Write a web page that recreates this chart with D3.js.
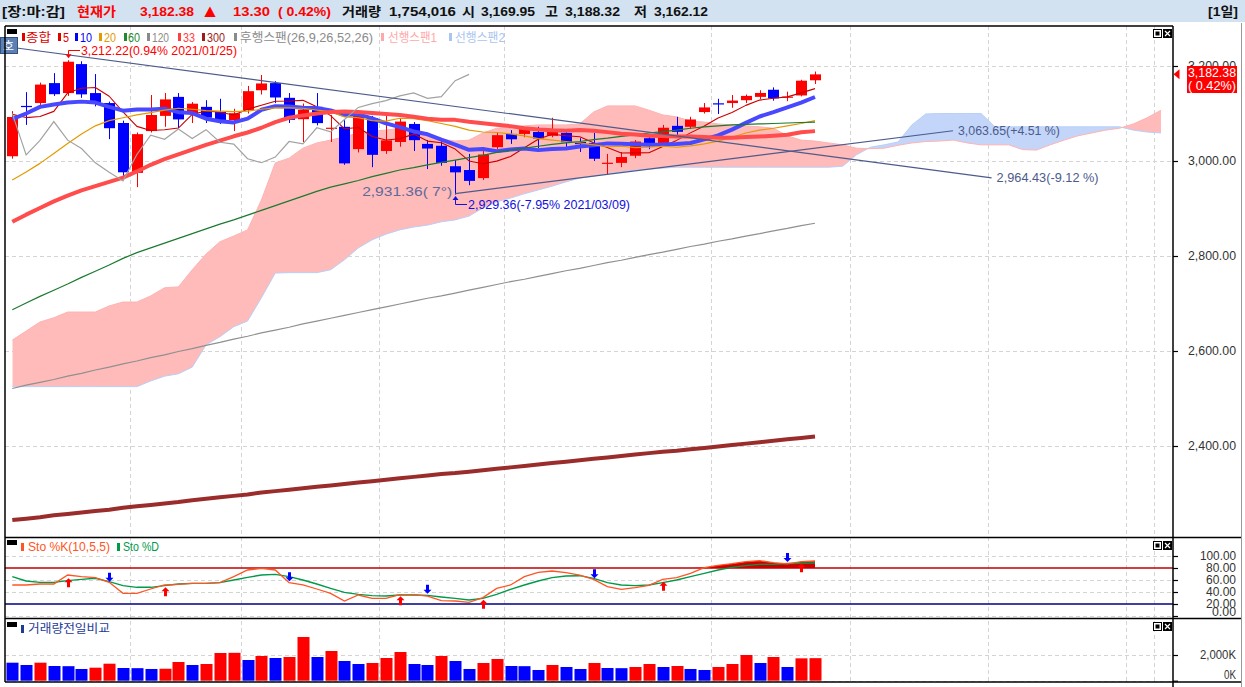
<!DOCTYPE html>
<html><head><meta charset="utf-8">
<script src="https://cdn.jsdelivr.net/npm/d3@7"></script>
<style>
body{margin:0;background:#fff;overflow:hidden}
svg{display:block}
text{font-family:"Liberation Sans","Noto Sans CJK KR",sans-serif}
</style>
</head><body>
<svg id="c" width="1245" height="687"></svg>
<script>
// ---------------- DATA ----------------
const dates = ["2021/01/19","2021/01/20","2021/01/21","2021/01/22","2021/01/25","2021/01/26","2021/01/27","2021/01/28","2021/01/29","2021/02/01",
"2021/02/02","2021/02/03","2021/02/04","2021/02/05","2021/02/08","2021/02/09","2021/02/10","2021/02/15","2021/02/16","2021/02/17",
"2021/02/18","2021/02/19","2021/02/22","2021/02/23","2021/02/24","2021/02/25","2021/02/26","2021/03/02","2021/03/03","2021/03/04",
"2021/03/05","2021/03/08","2021/03/09","2021/03/10","2021/03/11","2021/03/12","2021/03/15","2021/03/16","2021/03/17","2021/03/18",
"2021/03/19","2021/03/22","2021/03/23","2021/03/24","2021/03/25","2021/03/26","2021/03/29","2021/03/30","2021/03/31","2021/04/01",
"2021/04/02","2021/04/05","2021/04/06","2021/04/07","2021/04/08","2021/04/09","2021/04/12","2021/04/13","2021/04/14"];
const opens = [3010,3116,3122,3164,3143,3204,3143,3122,3080,2975,
3063,3095,3135,3101,3114,3103,3086,3107,3149,3164,
3133,3088,3114,3068,3072,3025,3090,3021,3040,3078,
3036,3032,2989,2981,2964,3029,3057,3057,3061,3053,
3059,3040,3038,2994,2996,3011,3048,3038,3074,3072,
3103,3121.5,3122,3128,3135,3150,3134,3138,3169.95];
const highs = [3105,3145,3165,3185,3212.22,3210,3183,3125,3085,3060,
3139,3143,3143,3124,3128,3131,3110,3158,3181,3168,
3143,3121,3143,3097,3086,3103,3095,3101,3090,3082,
3044,3046,3002,3015,3029,3061,3065,3071,3072,3091,
3063,3048,3059,3015,3019,3044,3052,3076,3093,3093,
3122,3131,3139,3140,3149,3155,3146,3171,3188.32];
const lows = [3005,3076,3118,3137,3137,3133,3115,3046,2964,2945,
3060,3072,3069,3080,3080,3078,3063,3100,3140,3122,
3080,3040,3075,3040,2992,3018,2987,3015,3030,3021,
2983,2990,2929.36,2949,2960,3025,3036,3050,3027,3050,
3023,3019,3000,2971,2987,3006,3025,3033,3055,3068,
3100,3099,3112,3122,3130,3127,3126,3136,3162.12];
const closes = [3092.66,3114.55,3160.84,3140.63,3208.99,3140.31,3122.56,3069.05,2976.21,3056.53,
3096.81,3129.68,3087.55,3120.63,3091.24,3084.67,3100.58,3147.00,3163.25,3133.73,
3086.66,3107.62,3079.75,3070.09,2994.98,3099.69,3012.95,3043.49,3082.99,3043.87,
3026.26,2996.11,2976.12,2958.12,3013.70,3054.39,3045.71,3067.17,3047.50,3066.01,
3039.53,3035.46,3004.74,2996.35,3008.33,3041.01,3036.04,3070.00,3061.42,3087.40,
3112.80,3120.83,3127.20,3137.06,3143.26,3131.88,3135.59,3169.08,3182.38];
const ma5 = [3098.2,3091.4,3093.6,3104.5,3143.5,3153.1,3154.7,3136.3,3103.4,3072.9,
3064.2,3065.7,3069.4,3098.2,3105.2,3102.8,3096.9,3108.8,3117.3,3125.8,
3126.2,3127.7,3114.2,3095.6,3067.8,3070.4,3051.5,3044.2,3046.8,3056.6,
3041.9,3038.5,3025.1,3000.1,2994.1,2999.7,3009.6,3027.8,3045.7,3056.2,
3053.2,3051.1,3038.6,3028.4,3016.9,3017.2,3017.3,3030.3,3043.4,3059.2,
3073.5,3090.5,3101.9,3117.1,3128.2,3132.0,3135.0,3143.4,3152.4];
const ma10 = [3088,3100,3114,3119,3123,3125,3123,3114,3106,3108.2,
3108.6,3110.2,3102.8,3100.8,3089.1,3083.5,3081.3,3089.1,3107.8,3115.5,
3114.5,3112.3,3111.5,3106.5,3096.8,3098.3,3089.6,3079.2,3071.2,3062.2,
3056.2,3045.0,3034.7,3023.5,3025.3,3020.8,3024.1,3026.4,3022.9,3025.1,
3026.4,3030.4,3033.2,3037.1,3036.5,3035.2,3034.2,3034.5,3035.9,3038.0,
3045.4,3053.9,3066.1,3080.2,3093.7,3102.8,3112.7,3122.7,3134.7];
const ma20 = [2960,2977,2995,3016,3037,3057,3074,3085,3091,3097,
3102,3107,3111,3109,3106,3105,3104,3105,3109,3112,
3112,3111,3107,3104,3093,3091,3085,3084,3090,3089,
3085,3079,3073,3065,3061,3060,3057,3053,3047,3044,
3041,3038,3034,3030,3031,3028,3029,3031,3029,3032,
3036,3042,3050,3059,3065,3069,3074,3079,3085];
const ma60 = [2687,2701,2715,2728,2741,2755,2768,2781,2795,2807,
2817,2827,2837,2847,2857,2867,2876,2886,2896,2906,
2916,2926,2936,2945,2952,2959,2967,2974,2981,2986,
2992,2997,3002,3007,3012,3018,3023,3027,3031,3035,
3038,3041,3045,3048,3052,3055,3059,3062,3065,3069,
3072,3074,3076,3077,3078,3079,3080,3081,3082];
const ma120 = [2521,2528,2534,2540,2547,2553,2560,2566,2573,2579,
2586,2592,2599,2605,2612,2618,2625,2631,2638,2644,
2650,2657,2663,2669,2675,2681,2687,2693,2699,2705,
2711,2716,2722,2728,2734,2740,2746,2751,2757,2763,
2769,2774,2780,2786,2791,2797,2803,2808,2814,2820,
2825,2831,2836,2842,2847,2853,2858,2864,2869];
const ma33 = [2872,2887,2901,2915,2927,2938,2947,2956,2965,2978,
2992,3004,3014,3024,3034,3043,3052,3060,3070,3082,
3091,3096,3100,3103,3104,3103,3101,3099,3097,3093,
3089,3087,3086.6,3082.5,3079.5,3076.2,3073.4,3069.1,3066.3,3064.5,
3063.7,3065.4,3063.9,3060.8,3057.2,3055.8,3053.2,3052.5,3051.8,3051.4,
3050.4,3049.1,3048.9,3050.4,3051.5,3053.1,3055.1,3060.4,3062.9];
const ma300 = [2244,2247,2250,2254,2257,2260,2263,2266,2270,2273,
2276,2279,2282,2286,2289,2292,2295,2298,2302,2305,
2308,2311,2314,2317,2320,2323,2326,2329,2332,2335,
2338,2341,2343,2346,2349,2352,2355,2358,2361,2364,
2367,2370,2373,2376,2379,2382,2385,2388,2390,2393,
2396,2399,2402,2405,2408,2411,2414,2417,2420];
const laggingShift = 25;
const span1 = [2623,2642,2661,2670,2682,2682,2682,2695,2703,2703,
2716,2733,2735,2771,2804,2830,2842,2855,2918,2996,
3006,3027,3038,3044,3051,3059,3063,3065,3069,3059,
3051,3046,3042,3044,3059,3069,3072,3074,3076,3076,
3076,3078,3103,3116,3116,3116,3107,3097,3093,3084,
3082,3078,3076,3074,3072,3069,3053,3044,3042,3038,
3034,3027,3026,3027,3033,3038,3041,3042,3044,3038,
3034,3034,3034,3024,3023,3034,3044,3053,3059,3065,
3069,3078,3091,3107];
const span2 = [2525,2525,2525,2525,2525,2525,2525,2525,2525,2525,
2537,2547,2552,2566,2613,2630,2651,2663,2712,2764,
2765,2765,2765,2771,2792,2817,2834,2846,2855,2861,
2865,2872,2876,2884,2901,2914,2922,2931,2939,2947,
2956,2964,2968,2973,2977,2981,2983,2985,2987,2987,
2987,2987,2987,2987,2987,2987,2987,2987,2987,2987,
2989,3013,3029,3034,3040,3076,3099,3100,3100,3100,
3100,3072,3072,3072,3072,3072,3072,3072,3072,3072,
3072,3065,3061,3059];
const volumes = [1401,1222,1401,1144,1130,911,1012,1323,988,975,
911,930,1455,1222,1300,2156,2170,1611,1922,1767,
1844,3400,1844,2311,1533,1300,1378,1767,2233,1300,
1222,1922,1533,911,1378,1689,1144,1130,833,1222,
1066,911,1378,988,975,1066,1300,1066,1144,911,
833,1066,1300,2000,1378,1844,1066,1740,1754];
const prevDayVolume = 1500;
const lastVolumeShares = 1754016;
const stoK = [51.7,51.7,53.3,53.3,68.3,65.6,63.9,56.1,37.8,37.8,
45,51.7,52.8,54.4,54.4,55.6,65.6,76.7,79.4,76.7,
55.6,51.7,45,37.8,25,35,29.4,29.4,35.5,35.5,
33.3,25.6,25,22.8,30.6,46.1,51.7,65.6,72.8,75,
72.2,68.3,61.1,48.9,44.4,47.2,51,61.1,63.9,71.1,
80.6,84.4,87.2,90.6,92.2,88.9,86.8,90.6,91.7];
const stoD = [65.6,58.3,56.1,56.1,58.9,61.1,62.8,57.2,50.6,47.8,
47.8,50.6,53.3,54.4,54.4,55.6,60,64.4,68.3,69.4,
65.6,60,53.3,46.1,39.4,36.1,33.9,33.3,35,35,
34.4,31.7,29.4,26.7,29.4,36.1,44.4,51.7,58.3,63.9,
66.7,67.2,62.8,55.6,51.7,50.6,51.7,55.6,60,65.6,
71.1,76.7,81.1,83.9,86.1,86.1,87.5,87.8,88.3];
const buyIdx = [4,11,28,34,47,57];
const buyVal = [63,48,33,27,57,88];
const sellIdx = [7,20,30,42,56];
const sellVal = [57,58,37,63,90];
const priceTicks = [2400,2600,2800,3000,3200];
const stoTicks = [0,20,40,60,80,100];
const volTicks = [0,2000];
const gridIdx = [8.5,16.5,26.5,35.5,50.5,60.5,70.5,80.5,82.5];
const trendLines = [
  {i1:-0.5, p1:3241, i2:70.76, p2:2964.43, endLabel:"2,964.43(-9.12 %)"},
  {i1:32, p1:2931.36, i2:67.97, p2:3063.65, endLabel:"3,063.65(+4.51 %)", startLabel:"2,931.36(  7°)"}
];
const legendMain = ["종합","5","10","20","60","120","33","300","후행스팬(26,9,26,52,26)","선행스팬1","선행스팬2"];
const legendSto = ["Sto %K(10,5,5)","Sto %D"];
const legendVol = ["거래량전일비교"];

// ---------------- LAYOUT ----------------
const svg = d3.select("#c");
const L=5, R=1173, mainT=26, mainB=537.5, stoB=618.5, volB=682;
const x = d3.scaleLinear().domain([0,58]).range([12.3,815]);
const yP = d3.scaleLinear().domain([2400,3200]).range([446,66]);
const yS = d3.scaleLinear().domain([0,100]).range([616,556]);
const yV = d3.scaleLinear().domain([0,2000]).range([680.7,655]);
const RED="#ff0000", BLUE="#0000ff";
const f2 = d3.format(",.2f");

function estW(s,size){let w=0;for(const ch of s){w+=(ch.codePointAt(0)>=0x1100)?size:size*0.5;}return w;}
function label(g,s,px,py,o={}){
  const size=o.size||12, w=o.w||estW(s,size);
  const x0 = o.anchor==="end" ? px-w : px;
  const t = g.append("text").attr("x",x0).attr("y",py).attr("font-size",size)
    .attr("fill",o.color||"#000").attr("font-weight",o.weight||"normal")
    .attr("dominant-baseline","central").attr("textLength",w)
    .attr("lengthAdjust","spacingAndGlyphs").text(s);
  if(o.family) t.style("font-family",o.family);
  return t;
}

svg.append("rect").attr("width",1245).attr("height",687).attr("fill","#fff");
const defs = svg.append("defs");
defs.append("clipPath").attr("id","cm").append("rect").attr("x",L).attr("y",mainT).attr("width",R-L).attr("height",mainB-mainT);
defs.append("clipPath").attr("id","cs").append("rect").attr("x",L).attr("y",mainB).attr("width",R-L).attr("height",stoB-mainB);
defs.append("clipPath").attr("id","cv").append("rect").attr("x",L).attr("y",stoB).attr("width",R-L).attr("height",volB-stoB);
defs.append("clipPath").attr("id","cabove").append("rect").attr("x",1175).attr("y",0).attr("width",70).attr("height",66);

// ---------------- HEADER ----------------
svg.append("rect").attr("x",0).attr("y",0).attr("width",1245).attr("height",22).attr("fill","#d2e2f0");
const last = closes[58], prev = closes[57];
const chg = last-prev, pct = (chg/prev*100).toFixed(2);
const hdr = svg.append("g");
const hItems = [
  ["[장:마:감]",2,"#111",63],["현재가",77,RED],[f2(last),140,RED,54],[f2(chg),233,RED,37],
  ["( "+pct+"%)",278,RED,53],["거래량",342,"#111"],[d3.format(",")(lastVolumeShares),389,"#111",67],
  ["시",462,"#111"],[f2(opens[58]),481,"#111",54],["고",545,"#111"],[f2(highs[58]),565,"#111",55],
  ["저",634,"#111"],[f2(lows[58]),654,"#111",54],["[1일]",1208,"#111",30]
];
hItems.forEach(d=>label(hdr,d[0],d[1],11,{size:13,color:d[2],weight:"bold",w:d[3]}));
label(hdr,"▲",204,11,{size:13,color:RED,w:12,family:"'Noto Sans CJK KR','DejaVu Sans',sans-serif"});
svg.append("line").attr("x1",1241.5).attr("x2",1241.5).attr("y1",23).attr("y2",687).attr("stroke","#999");

// ---------------- GRID ----------------
const grid = svg.append("g").attr("stroke","#d4d4d4").attr("stroke-dasharray","4,3");
gridIdx.forEach(g=>grid.append("line").attr("x1",Math.round(x(g))+0.5).attr("x2",Math.round(x(g))+0.5).attr("y1",mainT).attr("y2",volB));
priceTicks.forEach(t=>grid.append("line").attr("x1",L).attr("x2",R).attr("y1",Math.round(yP(t))+0.5).attr("y2",Math.round(yP(t))+0.5));
[0,40,60,100].forEach(t=>grid.append("line").attr("x1",L).attr("x2",R).attr("y1",Math.round(yS(t))+0.5).attr("y2",Math.round(yS(t))+0.5));
volTicks.forEach(t=>grid.append("line").attr("x1",L).attr("x2",R).attr("y1",Math.round(yV(t))+0.5).attr("y2",Math.round(yV(t))+0.5));

// ---------------- MAIN PANEL ----------------
const gm = svg.append("g").attr("clip-path","url(#cm)");
const cIdx = d3.range(span1.length);
defs.append("clipPath").attr("id","above2").append("path")
  .attr("d", d3.area().x(i=>x(i)).y0(mainT).y1(i=>yP(span2[i]))(cIdx));
defs.append("clipPath").attr("id","above1").append("path")
  .attr("d", d3.area().x(i=>x(i)).y0(mainT).y1(i=>yP(span1[i]))(cIdx));
gm.append("path").attr("clip-path","url(#above2)").attr("fill","#ffbaba")
  .attr("d", d3.area().x(i=>x(i)).y0(mainB).y1(i=>yP(span1[i]))(cIdx));
gm.append("path").attr("clip-path","url(#above1)").attr("fill","#c3d6fa")
  .attr("d", d3.area().x(i=>x(i)).y0(mainB).y1(i=>yP(span2[i]))(cIdx));
gm.append("path").attr("fill","none").attr("stroke","#b9cff7").attr("stroke-width",1)
  .attr("d", d3.line().x(i=>x(i)).y(i=>yP(span2[i]))(cIdx));
gm.append("path").attr("fill","none").attr("stroke","#ffb2b2").attr("stroke-width",1)
  .attr("d", d3.line().x(i=>x(i)).y(i=>yP(span1[i]))(cIdx));

// candles
const idx = d3.range(closes.length);
const cc = i => closes[i]>=opens[i] ? RED : BLUE;
gm.append("g").selectAll("line").data(idx).join("line")
  .attr("x1",i=>Math.round(x(i))+0.5).attr("x2",i=>Math.round(x(i))+0.5)
  .attr("y1",i=>yP(highs[i])).attr("y2",i=>yP(lows[i])).attr("stroke",cc).attr("stroke-width",1);
gm.append("g").selectAll("rect").data(idx).join("rect")
  .attr("x",i=>Math.round(x(i))-5).attr("width",11)
  .attr("y",i=>yP(Math.max(opens[i],closes[i])))
  .attr("height",i=>Math.max(1.2,Math.abs(yP(opens[i])-yP(closes[i]))))
  .attr("fill",cc);

// moving averages
const lineFor = arr => d3.line().x((d,i)=>x(i)).y(d=>yP(d))(arr);
const maDefs = [
  [ma5,"#cc0000",1.1],[ma10,"#4848ff",4],[ma20,"#e39a00",1.2],[ma60,"#1c7a30",1.2],
  [ma120,"#909090",1.2],[ma33,"#ff4c4c",4],[ma300,"#9a2c2c",4]
];
maDefs.forEach(m=>gm.append("path").attr("fill","none").attr("stroke",m[1]).attr("stroke-width",m[2])
  .attr("stroke-linejoin","round").attr("d",lineFor(m[0])));
// lagging span
const lagIdx = d3.range(laggingShift, closes.length);
gm.append("path").attr("fill","none").attr("stroke","#a2a2a2").attr("stroke-width",1.2)
  .attr("d", d3.line().x(i=>x(i-laggingShift)).y(i=>yP(closes[i]))(lagIdx));

// trend lines
const tl = svg.append("g");
trendLines.forEach(t=>{
  tl.append("line").attr("x1",x(t.i1)).attr("y1",yP(t.p1)).attr("x2",x(t.i2)).attr("y2",yP(t.p2))
    .attr("stroke","#4c5b8c").attr("stroke-width",1.2);
  label(tl,t.endLabel,x(t.i2)+5,yP(t.p2),{color:"#4c5b8c"});
  if(t.startLabel) label(tl,t.startLabel,x(t.i1)-3,yP(t.p1)-2,{color:"#5c6b9c",anchor:"end",w:90});
});

// high / low annotations
const hiI = d3.maxIndex(highs), loI = d3.minIndex(lows);
const hiV = highs[hiI], loV = lows[loI];
const an = svg.append("g");
{
  const hx = Math.round(x(hiI))+0.5, hy = yP(hiV)-2;
  an.append("path").attr("d",`M${hx},${hy} l-3,-4 h6 z`).attr("fill",RED);
  an.append("path").attr("d",`M${hx},${hy-4} V50.5 H80`).attr("fill","none").attr("stroke",RED);
  label(an,`${f2(hiV)}(${((hiV-last)/last*100).toFixed(2)}% ${dates[hiI]})`,81,50.5,{color:RED});
  const lx = Math.round(x(loI))+0.5, ly = yP(loV)+1.5;
  an.append("path").attr("d",`M${lx},${ly} l-3,4 h6 z`).attr("fill","#1010e0");
  an.append("path").attr("d",`M${lx},${ly+4} V204.5 H467`).attr("fill","none").attr("stroke","#1010e0");
  label(an,`${f2(loV)}(${((loV-last)/last*100).toFixed(2)}% ${dates[loI]})`,468,204.5,{color:"#1010e0"});
}

// legend main
const lg = svg.append("g");
lg.append("rect").attr("x",7).attr("y",29).attr("width",10).attr("height",5).attr("fill","#000");
const lgCol = ["#e00000","#e00000","#0000ff","#e39a00","#1c8a30","#8a8a8a","#ff4040","#9b1c1c","#8a8a8a","#ffa8a8","#aac4f0"];
const lgMark = [22,58,75,99,124,147,178,202,234,381,449];
const lgText = [26,63,80,104,128,152,183,207,240,388,455];
const lgW = [25,6,12,12,12,17,12,18,133,49,50];
legendMain.forEach((s,k)=>{
  lg.append("rect").attr("x",lgMark[k]).attr("y",33).attr("width",3).attr("height",8).attr("fill",lgCol[k]);
  label(lg,s,lgText[k],37.5,{size:12,color:lgCol[k],w:lgW[k]});
});
// 호 button
lg.append("rect").attr("x",0.5).attr("y",37.5).attr("width",17).attr("height",16).attr("fill","#5c80b4").attr("stroke","#34507c");
label(lg,"호",3,45.5,{size:11,color:"#fff",w:11});

// ---------------- STOCHASTIC ----------------
const gs = svg.append("g").attr("clip-path","url(#cs)");
gs.append("line").attr("x1",L).attr("x2",R).attr("y1",yS(80)).attr("y2",yS(80)).attr("stroke","#c00000").attr("stroke-width",1.3);
gs.append("line").attr("x1",L).attr("x2",R).attr("y1",yS(20)).attr("y2",yS(20)).attr("stroke","#000080").attr("stroke-width",1.3);
gs.append("path").attr("fill","#cc0000")
  .attr("d", d3.area().x((d,i)=>x(i)).y0(yS(80)).y1(d=>yS(Math.max(80,d)))(stoK));
gs.append("path").attr("fill","none").attr("stroke","#009a48").attr("stroke-width",1.4)
  .attr("d", d3.line().x((d,i)=>x(i)).y(d=>yS(d))(stoD));
gs.append("path").attr("fill","none").attr("stroke","#ff5522").attr("stroke-width",1.3)
  .attr("d", d3.line().x((d,i)=>x(i)).y(d=>yS(d))(stoK));
buyIdx.forEach((b,k)=>{
  const ax=Math.round(x(b))+0.5, ay=yS(buyVal[k]);
  gs.append("path").attr("fill",RED).attr("d",`M${ax},${ay} l4,4 h-2.5 v5 h-3 v-5 h-2.5 z`);
});
sellIdx.forEach((b,k)=>{
  const ax=Math.round(x(b))+0.5, ay=yS(sellVal[k]);
  gs.append("path").attr("fill",BLUE).attr("d",`M${ax},${ay} l4,-4 h-2.5 v-5 h-3 v5 h-2.5 z`);
});
const ls = svg.append("g");
ls.append("rect").attr("x",7).attr("y",540).attr("width",10).attr("height",5).attr("fill","#000");
ls.append("rect").attr("x",21).attr("y",543).attr("width",3).attr("height",8).attr("fill","#ff5522");
label(ls,legendSto[0],28,547,{color:"#ff5522",w:82});
ls.append("rect").attr("x",117).attr("y",543).attr("width",3).attr("height",8).attr("fill","#009a48");
label(ls,legendSto[1],123,547,{color:"#009a48"});

// ---------------- VOLUME ----------------
const gv = svg.append("g").attr("clip-path","url(#cv)");
gv.selectAll("rect").data(volumes).join("rect")
  .attr("x",(d,i)=>Math.round(x(i))-5.5).attr("width",12)
  .attr("y",d=>yV(d)).attr("height",d=>yV(0)-yV(d))
  .attr("fill",(d,i)=> d > (i===0?prevDayVolume:volumes[i-1]) ? RED : BLUE);
const lv = svg.append("g");
lv.append("rect").attr("x",7).attr("y",622).attr("width",10).attr("height",5).attr("fill","#000");
lv.append("rect").attr("x",21).attr("y",625).attr("width",3).attr("height",8).attr("fill","#1e3c96");
label(lv,legendVol[0],28,629,{color:"#1e3c96",w:82});

// ---------------- FRAMES & AXES ----------------
const fr = svg.append("g").attr("stroke","#000").attr("stroke-width",1.5);
fr.append("line").attr("x1",L).attr("x2",R).attr("y1",mainT).attr("y2",mainT);
fr.append("line").attr("x1",L).attr("x2",L).attr("y1",mainT).attr("y2",volB);
fr.append("line").attr("x1",R).attr("x2",R).attr("y1",mainT).attr("y2",687);
[mainB,stoB,volB].forEach(yy=>fr.append("line").attr("x1",L).attr("x2",1241).attr("y1",yy).attr("y2",yy));

function rightAxis(scale, ticks, fmt, zeroShift){
  const ax = d3.axisRight(scale).tickValues(ticks).tickSize(5).tickFormat("");
  const g = svg.append("g").attr("transform",`translate(${R},0)`).call(ax);
  g.select(".domain").remove();
  g.selectAll(".tick line").attr("stroke","#000").attr("stroke-width",1.2);
  ticks.forEach(t=>{
    const ty = scale(t) - (t===0 ? zeroShift : 0);
    const el = label(svg,fmt(t),1236,ty,{anchor:"end",color:"#333"});
    if(scale===yP && t===priceTicks[priceTicks.length-1]) el.attr("clip-path","url(#cabove)");
  });
}
rightAxis(yP, priceTicks, d=>f2(d), 0);
rightAxis(yS, stoTicks, d=>d3.format(".2f")(d), 4);
rightAxis(yV, volTicks, d=>d3.format(",")(d)+"K", 6);

// current price marker
const cp = svg.append("g");
const cy = yP(last);
cp.append("path").attr("d",`M${R+0.5},${cy} l6,-5 v10 z`).attr("fill",RED);
cp.append("rect").attr("x",1187).attr("y",66).attr("width",50).attr("height",27).attr("fill",RED);
label(cp,f2(last),1188,72.5,{color:"#fff",w:48});
label(cp,"( "+pct+"%)",1188,86,{color:"#fff",w:48});

// panel icons
function icons(yy){
  const g=svg.append("g");
  g.append("rect").attr("x",1153.5).attr("y",yy+0.5).attr("width",8).attr("height",8).attr("fill","#fff").attr("stroke","#000");
  g.append("rect").attr("x",1155.5).attr("y",yy+2.5).attr("width",4).attr("height",4).attr("fill","#000");
  g.append("rect").attr("x",1163).attr("y",yy).attr("width",9).attr("height",9).attr("fill","#000");
  g.append("path").attr("d",`M${1165},${yy+2} l5,5 M${1170},${yy+2} l-5,5`).attr("stroke","#fff").attr("stroke-width",1.2);
}
icons(29); icons(541); icons(622);
</script>
</body></html>
